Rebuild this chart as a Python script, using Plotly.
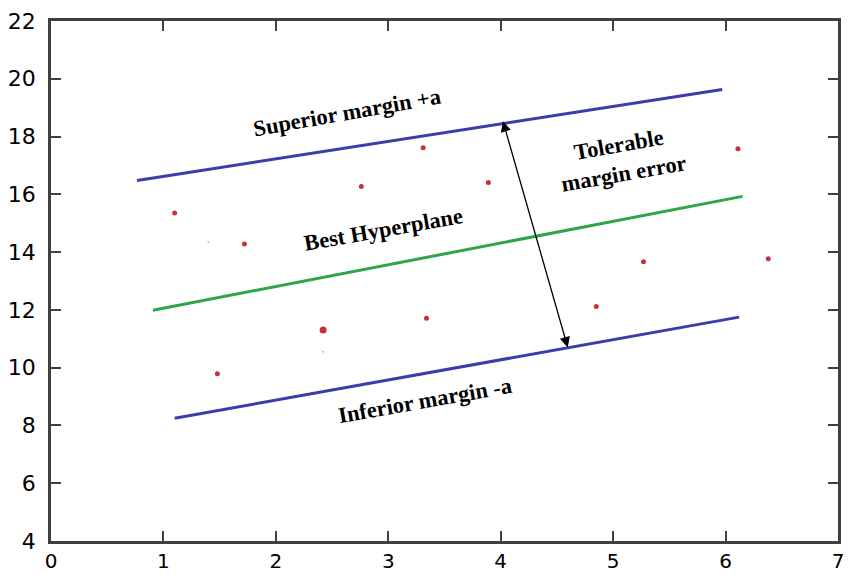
import plotly.graph_objects as go

# data
sup_x = [0.765, 5.97]
sup_y = [16.48, 19.63]
best_x = [0.907, 6.15]
best_y = [11.99, 15.93]
inf_x = [1.10, 6.12]
inf_y = [8.25, 11.75]

pts_x = [1.10, 1.72, 1.48, 2.76, 3.31, 3.34, 3.89, 4.85, 5.27, 6.11, 6.38]
pts_y = [15.35, 14.28, 9.79, 16.27, 17.61, 11.71, 16.41, 12.12, 13.67, 17.58, 13.77]
big_x = [2.42]
big_y = [11.30]
faint_x = [1.40, 2.42]
faint_y = [14.35, 10.55]

arrow_start = (4.60, 10.65)
arrow_end = (4.02, 18.53)

xticks = [0, 1, 2, 3, 4, 5, 6, 7]
yticks = [4, 6, 8, 10, 12, 14, 16, 18, 20, 22]

BLUE = "#3c3cab"
GREEN = "#2ea548"
RED = "#c8303c"

TOP, BOT = 21, 541
YSCALE = (BOT - TOP) / 18.0

fig = go.Figure()
fig.add_trace(go.Scatter(x=sup_x, y=sup_y, mode="lines", line=dict(color=BLUE, width=3), hoverinfo="skip"))
fig.add_trace(go.Scatter(x=best_x, y=best_y, mode="lines", line=dict(color=GREEN, width=3), hoverinfo="skip"))
fig.add_trace(go.Scatter(x=inf_x, y=inf_y, mode="lines", line=dict(color=BLUE, width=3), hoverinfo="skip"))
fig.add_trace(go.Scatter(x=pts_x, y=pts_y, mode="markers", marker=dict(color=RED, size=5)))
fig.add_trace(go.Scatter(x=big_x, y=big_y, mode="markers", marker=dict(color=RED, size=7)))
fig.add_trace(go.Scatter(x=faint_x, y=faint_y, mode="markers", marker=dict(color="#b8b8b8", size=2)))

fig.add_annotation(x=arrow_end[0], y=arrow_end[1], ax=arrow_start[0], ay=arrow_start[1],
                   xref="x", yref="y", axref="x", ayref="y", text="", showarrow=True,
                   arrowhead=2, startarrowhead=2, arrowside="end+start", arrowwidth=1.3,
                   arrowsize=1.6, startarrowsize=1.6, arrowcolor="black")

tfont = dict(family="Liberation Serif", size=22.5, color="black")
def label(txt, px, py):
    # px, py: positions in the reference picture (546 px bottom, 29.17 px/unit)
    fig.add_annotation(x=(px - 51) / 112.43, y=(546 - py) / 29.17 + 4, xref="x", yref="y",
                       text="<b>" + txt + "</b>", showarrow=False, textangle=-10, font=tfont,
                       align="center")

label("Superior margin +a", 347, 113)
label("Best Hyperplane", 383, 231)
label("Inferior margin -a", 425, 404)
label("Tolerable<br>margin error", 621, 160)

axis_common = dict(showgrid=False, zeroline=False, showline=True, linecolor="#404040", linewidth=2.5,
                   mirror="allticks", ticks="inside", ticklen=10, tickwidth=1.5, tickcolor="#404040",
                   automargin=False)
fig.update_xaxes(range=[0, 7], tickvals=xticks, ticklabelstandoff=0,
                 tickfont=dict(family="DejaVu Sans", size=20, color="black"), **axis_common)
fig.update_yaxes(range=[4, 22], tickvals=yticks, ticklabelstandoff=8,
                 tickfont=dict(family="DejaVu Sans", size=22, color="black"), **axis_common)

fig.update_layout(width=852, height=577, margin=dict(l=51, r=14, t=TOP, b=577 - BOT),
                  plot_bgcolor="white", paper_bgcolor="white", showlegend=False)
fig.write_html("out.html")
